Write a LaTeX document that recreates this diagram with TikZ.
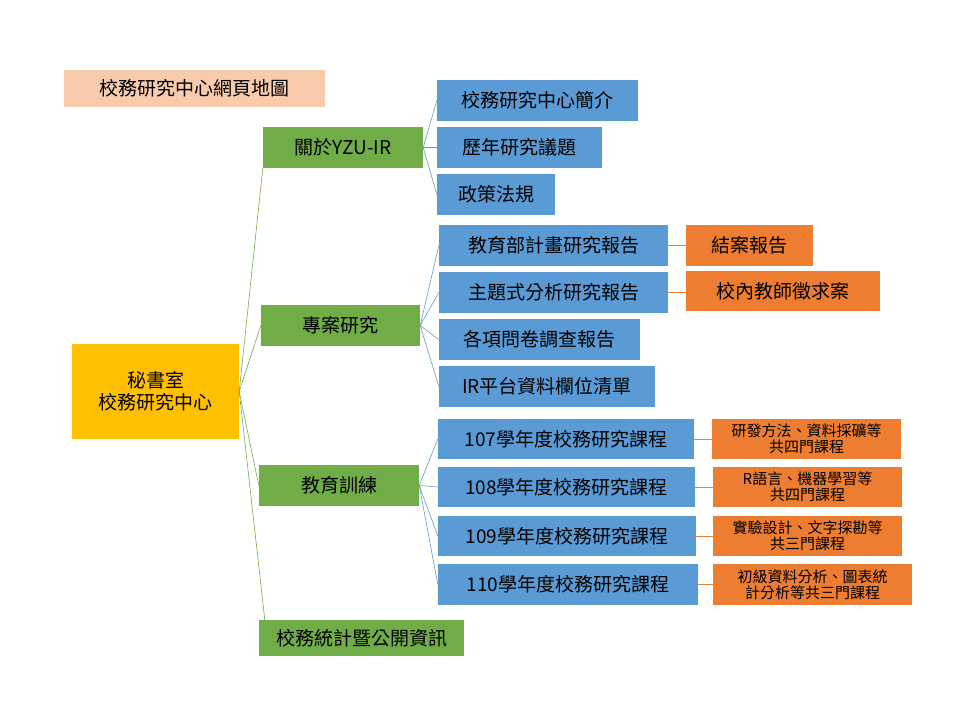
\documentclass[tikz,border=0pt]{standalone}
\usepackage{fontspec}
\setmainfont{Noto Sans CJK TC}
\definecolor{peach}{HTML}{F8CBAD}
\definecolor{gold}{HTML}{FFC000}
\definecolor{leaf}{HTML}{70AD47}
\definecolor{sky}{HTML}{5B9BD5}
\definecolor{tang}{HTML}{ED7D31}
\tikzset{
  box/.style={inner sep=0pt,align=center,font=\fontsize{19}{22}\selectfont},
  rootbox/.style={box,fill=gold},
  groupbox/.style={box,fill=leaf},
  itembox/.style={box,fill=sky},
  notebox/.style={box,fill=tang},
  smallnote/.style={notebox,font=\fontsize{15}{16}\selectfont},
  gline/.style={leaf,semithick},
  bline/.style={sky,semithick},
  oline/.style={tang,semithick}
}
% a box from its corners, in pixels
\newcommand{\pbox}[5]{%
  \node[#1,minimum width={#4-#2},minimum height={#5-#3}] (#1#2#3) at ({(#2+#4)/2},{(#3+#5)/2})}
\begin{document}
\begin{tikzpicture}[x=1pt,y=-1pt]
\useasboundingbox (0,0) rectangle (960,720);
% title
\node[box,fill=peach,minimum width=261,minimum height=37] (title) at (194.5,88.5) {校務研究中心網頁地圖};
% root
\node[rootbox,minimum width=167,minimum height=95] (root) at (155.5,391.5) {秘書室\\校務研究中心};
% groups
\node[groupbox,minimum width=160,minimum height=41] (about) at (343,147.5) {關於YZU-IR};
\node[groupbox,minimum width=159,minimum height=41] (proj) at (340.5,325.5) {專案研究};
\node[groupbox,minimum width=160,minimum height=41] (train) at (339,485.5) {教育訓練};
\node[groupbox,minimum width=205,minimum height=36] (stat) at (361.5,638) {校務統計暨公開資訊};
% about items
\node[itembox,minimum width=201,minimum height=41] (intro) at (537.5,100.5) {校務研究中心簡介};
\node[itembox,minimum width=165,minimum height=41] (topics) at (519.5,147.5) {歷年研究議題};
\node[itembox,minimum width=118,minimum height=41] (policy) at (496,194.5) {政策法規};
% project items
\node[itembox,minimum width=229,minimum height=41] (moe) at (553.5,245.5) {教育部計畫研究報告};
\node[itembox,minimum width=229,minimum height=41] (theme) at (553.5,292.5) {主題式分析研究報告};
\node[itembox,minimum width=201,minimum height=41] (survey) at (539.5,339.5) {各項問卷調查報告};
\node[itembox,minimum width=216,minimum height=41] (irlist) at (547,386.5) {IR平台資料欄位清單};
\node[notebox,minimum width=127,minimum height=41] (closed) at (749.5,245.5) {結案報告};
\node[notebox,minimum width=194,minimum height=40] (call) at (783,291) {校內教師徵求案};
% training items
\node[itembox,minimum width=256,minimum height=40] (y107) at (566,439) {107學年度校務研究課程};
\node[itembox,minimum width=257,minimum height=40] (y108) at (566.5,487) {108學年度校務研究課程};
\node[itembox,minimum width=258,minimum height=40] (y109) at (567,536) {109學年度校務研究課程};
\node[itembox,minimum width=260,minimum height=41] (y110) at (568,584.5) {110學年度校務研究課程};
\node[smallnote,minimum width=189,minimum height=40] (c107) at (806.5,439) {研發方法、資料採礦等\\共四門課程};
\node[smallnote,minimum width=189,minimum height=40] (c108) at (807.5,487) {R語言、機器學習等\\共四門課程};
\node[smallnote,minimum width=189,minimum height=40] (c109) at (807.5,536) {實驗設計、文字探勘等\\共三門課程};
\node[smallnote,minimum width=199,minimum height=41] (c110) at (812.5,584.5) {初級資料分析、圖表統\\計分析等共三門課程};
% connectors
\draw[gline] (root.east) -- (about.south west);
\draw[gline] (root.east) -- (proj.west);
\draw[gline] (root.east) -- (train.west);
\draw[gline] (root.east) -- ([xshift=6pt]stat.north west);
\foreach \n in {intro,topics,policy} \draw[bline] (about.east) -- (\n.west);
\foreach \n in {moe,theme,survey,irlist} \draw[bline] (proj.east) -- (\n.west);
\foreach \n in {y107,y108,y109,y110} \draw[bline] (train.east) -- (\n.west);
\draw[oline] (moe.east) -- (closed.west);
\draw[oline] (theme.east) -- (theme.east -| call.west);
\foreach \n in {107,108,109,110} \draw[oline] (y\n.east) -- (c\n.west);
\end{tikzpicture}
\end{document}
